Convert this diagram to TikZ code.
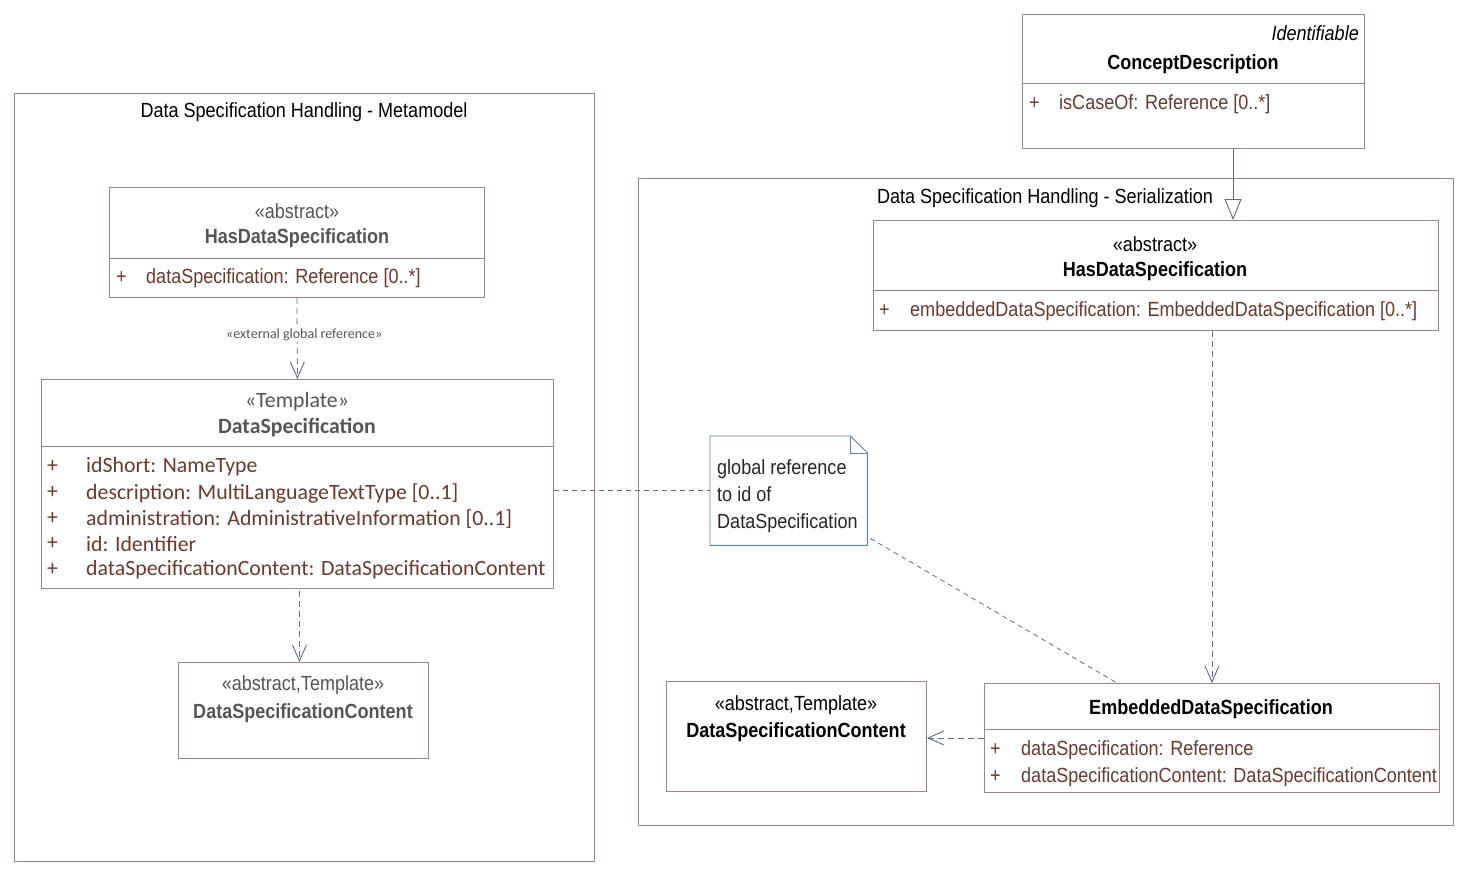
\documentclass[tikz,border=0pt]{standalone}
\usepackage{fontspec}
\setmainfont{Liberation Sans}[FakeStretch=0.88]
\newfontfamily\calib{Carlito}
\usetikzlibrary{arrows.meta,calc}
\definecolor{boxc}{HTML}{9C8585}
\definecolor{attrc}{HTML}{6B3A2E}
\definecolor{linec}{HTML}{5F6B80}
\definecolor{notec}{HTML}{5F84A0}
\definecolor{stc}{HTML}{555555}
\begin{document}
\begin{tikzpicture}[x=1pt,y=-1pt,
  cls/.style={draw=boxc, line width=0.9pt, anchor=north west, inner sep=0pt, fill=white},
  frm/.style={draw=boxc, line width=0.9pt},
  sep/.style={draw=boxc, line width=0.9pt},
  txt/.style={inner sep=0pt, font=\fontsize{20.5}{23}\selectfont},
  btxt/.style={inner sep=0pt, font=\bfseries\fontsize{20.5}{23}\selectfont},
  ctxt/.style={inner sep=0pt, font=\calib\fontsize{21.8}{24}\selectfont},
  attr/.style={txt, text=attrc, anchor=west},
  cattr/.style={ctxt, text=attrc, anchor=west},
  dep/.style={draw=linec, line width=0.8pt, dash pattern=on 6pt off 4pt, -{Straight Barb[length=16pt,width=14pt,line width=0.9pt]}},
  gen/.style={draw=linec, line width=0.9pt, -{Triangle[open,length=21pt,width=17pt,fill=white]}},
  nlink/.style={draw=linec, line width=0.8pt, dash pattern=on 5pt off 4pt}
]
\useasboundingbox (0,0) rectangle (1469,875);

% ---- frames
\draw[frm] (14,93) rectangle (594,861);
\node[txt] (tl) at (304,112) {Data Specification Handling - Metamodel};
\draw[frm] (638,178) rectangle (1453,825);
\node[txt] (tr) at (1045,198) {Data Specification Handling - Serialization};

% ---- left HasDataSpecification
\node[cls, minimum width=375pt, minimum height=110pt] (hdsL) at (109,187) {};
\draw[sep] ($(hdsL.north west)+(0,71)$) -- ($(hdsL.north east)+(0,71)$);
\node[txt, text=stc] (hdsLs) at (297,211) {«abstract»};
\node[btxt, text=stc] (hdsLn) at (297,238) {HasDataSpecification};
\node[attr] (hdsLp) at (116,278) {+};
\node[attr] (hdsLa) at (146,278) {dataSpecification: Reference [0..*]};

% ---- DataSpecification
\node[cls, minimum width=512pt, minimum height=209pt] (ds) at (41,379) {};
\draw[sep] ($(ds.north west)+(0,67)$) -- ($(ds.north east)+(0,67)$);
\node[ctxt, text=stc] (dss) at (297,402) {«Template»};
\node[ctxt, text=stc, font=\calib\bfseries\fontsize{21.8}{24}\selectfont] (dsn) at (297,428) {DataSpecification};
\foreach \y/\t [count=\i] in {467/{idShort: NameType},493/{description: MultiLanguageTextType [0..1]},519/{administration: AdministrativeInformation [0..1]},544/{id: Identifier},570/{dataSpecificationContent: DataSpecificationContent}}{
  \node[cattr] (dsp\i) at (47,\y) {+};
  \node[cattr] (dsa\i) at (86,\y) {\t};
}

% ---- left DataSpecificationContent
\node[cls, minimum width=250pt, minimum height=96pt] (dscL) at (178,662) {};
\node[txt, text=stc] (dscLs) at (303,685) {«abstract,Template»};
\node[btxt, text=stc] (dscLn) at (303,713) {DataSpecificationContent};

% ---- ConceptDescription
\node[cls, minimum width=342pt, minimum height=134pt] (cd) at (1022,14) {};
\draw[sep] ($(cd.north west)+(0,69)$) -- ($(cd.north east)+(0,69)$);
\node[txt, anchor=east, font=\itshape\fontsize{20.5}{23}\selectfont] (cdi) at (1359,33) {Identifiable};
\node[btxt] (cdn) at (1193,64) {ConceptDescription};
\node[attr] (cdp) at (1029,104) {+};
\node[attr] (cda) at (1059,104) {isCaseOf: Reference [0..*]};

% ---- right HasDataSpecification
\node[cls, minimum width=565pt, minimum height=110pt] (hdsR) at (873,220) {};
\draw[sep] ($(hdsR.north west)+(0,70)$) -- ($(hdsR.north east)+(0,70)$);
\node[txt] (hdsRs) at (1155,244) {«abstract»};
\node[btxt] (hdsRn) at (1155,271) {HasDataSpecification};
\node[attr] (hdsRp) at (879,311) {+};
\node[attr] (hdsRa) at (910,311) {embeddedDataSpecification: EmbeddedDataSpecification [0..*]};

% ---- EmbeddedDataSpecification
\node[cls, minimum width=455pt, minimum height=109pt] (eds) at (984,683) {};
\draw[sep] ($(eds.north west)+(0,46)$) -- ($(eds.north east)+(0,46)$);
\node[btxt] (edsn) at (1211,709) {EmbeddedDataSpecification};
\node[attr] (edsp1) at (990,750) {+};
\node[attr] (edsa1) at (1021,750) {dataSpecification: Reference};
\node[attr] (edsp2) at (990,777) {+};
\node[attr] (edsa2) at (1021,777) {dataSpecificationContent: DataSpecificationContent};

% ---- right DataSpecificationContent
\node[cls, minimum width=260pt, minimum height=110pt] (dscR) at (666,681) {};
\node[txt] (dscRs) at (796,705) {«abstract,Template»};
\node[btxt] (dscRn) at (796,732) {DataSpecificationContent};

% ---- note
\node[anchor=north west, minimum width=157pt, minimum height=109pt, inner sep=0pt] (note) at (710,436) {};
\draw[notec, line width=0.9pt, fill=white] (note.north west) -- ($(note.north east)+(-17,0)$) -- ($(note.north east)+(0,17)$) -- (note.south east) -- (note.south west) -- cycle;
\draw[notec, line width=0.9pt] ($(note.north east)+(-17,0)$) -- ($(note.north east)+(-17,17)$) -- ($(note.north east)+(0,17)$);
\node[txt, anchor=north west, align=left, text=black!85, font=\fontsize{20.5}{27}\selectfont] (notet) at (717,459) {global reference\\to id of\\DataSpecification};

% ---- connectors
\draw[dep] (hdsL.south) -- (ds.north) node[midway, fill=white, inner sep=1pt, text=stc, font=\calib\fontsize{14}{16}\selectfont, xshift=7pt, yshift=4pt] (lbl) {«external global reference»};
\draw[dep] ($(ds.south)+(2,2)$) -- ($(dscL.north)+(-4,0)$);
\draw[gen] ($(cd.south west)+(211,0)$) -- ($(hdsR.north west)+(360,0)$);
\draw[dep] (hdsR.south -| eds.north) -- (eds.north);
\draw[dep] (eds.west) -- (eds.west -| dscR.east);
\draw[nlink] (note.west -| ds.east) -- (note.west);
\draw[nlink] ($(note.south east)+(3,-7)$) -- ($(eds.north west)+(133,0)$);
\end{tikzpicture}
\end{document}
